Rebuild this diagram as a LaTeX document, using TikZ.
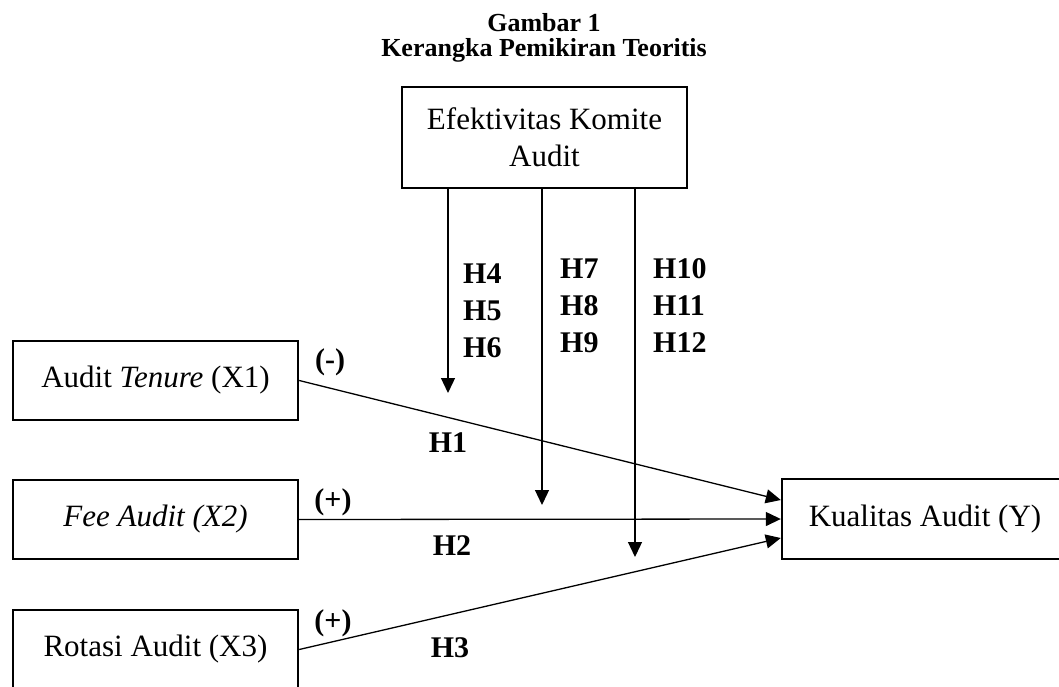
\documentclass[tikz,border=0pt]{standalone}
\usepackage{fontspec}
\setmainfont{Liberation Serif}
\usetikzlibrary{arrows.meta}
\usetikzlibrary{positioning}

\begin{document}
\begin{tikzpicture}[x=1pt,y=-1pt,
kotak/.style={rectangle,draw=black,line width=2.4pt,inner sep=0pt,minimum width=285pt,minimum height=79pt,font=\fontsize{31}{37}\selectfont},
panah/.style={line width=1.3pt,-{Triangle[length=15pt,width=14pt]}},
hip/.style={inner sep=0pt,anchor=base west,font=\fontsize{30}{36}\selectfont\bfseries},
tanda/.style={inner sep=0pt,font=\fontsize{30}{36}\selectfont\bfseries}]
\useasboundingbox (0,0) rectangle (1059,687);
\node[anchor=base,font=\fontsize{26}{30}\selectfont\bfseries](judul) at (544,32){Gambar 1};
\node[anchor=base,font=\fontsize{26}{30}\selectfont\bfseries](subjudul) at (544,57){Kerangka Pemikiran Teoritis};
\node[kotak,minimum height=101pt,align=center](komite) at (544.5,137.5){Efektivitas Komite\\Audit};
\node[kotak](tenure) at (155.5,380.5){Audit \textit{Tenure} (X1)};
\node[kotak](fee) at (155.5,519.5){\textit{Fee Audit (X2)}};
\node[kotak](rotasi) at (155.5,649.5){Rotasi Audit (X3)};
\node[kotak,minimum width=286pt,minimum height=80pt](kualitas) at (925,519){Kualitas Audit (Y)};
\coordinate (u1) at (448,393);
\coordinate (u2) at (542,505);
\coordinate (u3) at (635,557);
\node[hip](h4) at (463,283){H4};
\node[hip](h5) at (463,320){H5};
\node[hip](h6) at (463,357){H6};
\node[hip](h7) at (560,278){H7};
\node[hip](h8) at (560,315){H8};
\node[hip](h9) at (560,352){H9};
\node[hip](h10) at (653,278){H10};
\node[hip](h11) at (653,315){H11};
\node[hip](h12) at (653,352){H12};
\node[tanda](s1) at (330,362){(-)};
\node[tanda](s2) at (333,502){(+)};
\node[tanda](s3) at (333,623){(+)};
\node[tanda,anchor=base](h1) at (448,452){H1};
\node[tanda,anchor=base](h2) at (452,555){H2};
\node[tanda,anchor=base](h3) at (450,657){H3};
\draw (u1 |- komite.south) edge[panah] (u1);
\draw (u2 |- komite.south) edge[panah] (u2);
\draw (u3 |- komite.south) edge[panah] (u3);
\draw (tenure.east) edge[panah] ([yshift=19pt]kualitas.west);
\draw (fee.east) edge[panah] (kualitas.west);
\draw (rotasi.east) edge[panah] ([yshift=-19pt]kualitas.west);
\end{tikzpicture}
\end{document}
